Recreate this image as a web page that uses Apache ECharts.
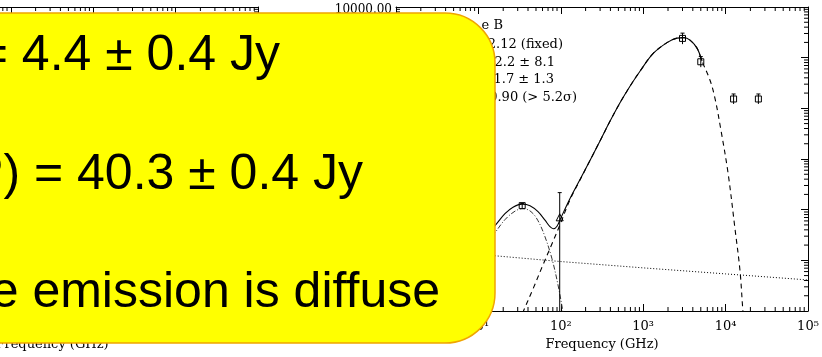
<!DOCTYPE html>
<html><head><meta charset="utf-8">
<script src="https://cdn.jsdelivr.net/npm/echarts@6/dist/echarts.min.js"></script>
<style>html,body{margin:0;padding:0;background:#fff}#c{width:822px;height:357px}</style>
</head><body><div id="c"></div>
<script>
// ---- data ----
const xTickLabels = ['10\u2070','10\u00b9','10\u00b2','10\u00b3','10\u2074','10\u2075'];
const yTickLabels = ['0.01','0.10','1.00','10.00','100.00','1000.00','10000.00'];

const totalFreq = [12.0,15.9,21.0,26.3,33.8,42.3,52.9,64.3,73.9,81.5,89.9,100.5,129,171,226,299,395,523,691,914,1315,1945,2570,3126,3698,4498,5176];
const totalFlux = [0.292,0.482,0.833,1.12,1.285,1.20,0.913,0.620,0.461,0.421,0.471,0.695,1.65,3.93,9.34,22.7,55.3,128.5,273,540,1200,1983,2432,2489,2222,1542,853];

const dustFreq = [25.6,34.8,46.0,60.8,78.2,97.8,129,171,226,299,395,523,691,914,1315,1945,2570,3126,3698,4498,5176,6470,7430,8790,10690,13000,14960,16260,18200];
const dustFlux = [0.00292,0.00955,0.0273,0.0815,0.212,0.505,1.56,3.85,9.34,22.7,55.3,128.5,273,540,1200,1983,2432,2489,2222,1542,853,358,158,36.7,5.40,0.421,0.0620,0.00955,0.00129];

const humpFreq = [10.5,15.9,21.0,27.8,34.8,43.5,52.9,64.3,78.2,92.5,106.3,118.9];
const humpFlux = [0.141,0.350,0.634,0.934,1.05,0.913,0.605,0.292,0.107,0.0327,0.00955,0.0032];

const plawFreq = [1,15.9,100,1000,10000,100000];
const plawFlux = [0.17,0.123,0.0946,0.071,0.054,0.041];

const ptFreq  = [34, 97, 3000, 5000, 12500, 25000];
const ptFlux  = [1.20, 0.69, 2400, 830, 153, 153];
const ptLow   = [1.08, 0.01, 1850, 650, 122, 122];
const ptHigh  = [1.33, 2.17, 3050, 1050, 192, 192];
const ptShape = ['square','triangle','square','square','square','square'];

const fitLines = ['e B', '2.12 (fixed)', '32.2 \u00b1 8.1', '1.7 \u00b1 1.3', '0.90 (> 5.2\u03c3)'];
const noteLines = ['= 4.4 \u00b1 0.4 Jy', 'P) = 40.3 \u00b1 0.4 Jy', 'e emission is diffuse'];
const axisTitle = 'Frequency (GHz)';

// ---- chart ----
const X_MIN = 1, X_MAX = 1e5, Y_MIN = 0.01, Y_MAX = 1e4;
const SERIF = '"DejaVu Serif", "Liberation Serif", serif';
const SANS = '"Liberation Sans", Arial, sans-serif';
const xMinor = [], yMinor = [];
for (let d = 1; d < X_MAX; d *= 10) for (let m = 2; m <= 9; m++) xMinor.push(d * m);
for (let d = Y_MIN; d < Y_MAX * 0.999; d *= 10) for (let m = 2; m <= 9; m++) yMinor.push(d * m);

const grids = [
  {left: -154, top: 7, width: 412, height: 304, outerBoundsMode: 'none', containLabel: false},
  {left: 396, top: 7, width: 412, height: 304, outerBoundsMode: 'none', containLabel: false}
];
const axLine = {show: true, onZero: false, lineStyle: {color: '#000', width: 1}};
const axTick = {show: true, inside: true, length: 7, lineStyle: {color: '#000', width: 1}};
function xLabel(v){ return xTickLabels[Math.round(Math.log10(v))] || ''; }
function yLabel(v){ return yTickLabels[Math.round(Math.log10(v)) + 2] || ''; }

const xAxes = [], yAxes = [];
[0, 1].forEach(g => {
  xAxes.push({type: 'log', logBase: 10, gridIndex: g, min: X_MIN, max: X_MAX, splitNumber: 5, position: 'bottom',
    axisLine: axLine, axisTick: axTick, splitLine: {show: false}, minorTick: {show: false},
    axisLabel: {show: true, formatter: xLabel, fontFamily: SERIF, fontSize: 13, color: '#000', margin: 9},
    name: axisTitle, nameLocation: 'middle', nameGap: 25,
    nameTextStyle: {fontFamily: SERIF, fontSize: 13, color: '#000'}});
  xAxes.push({type: 'log', logBase: 10, gridIndex: g, min: X_MIN, max: X_MAX, splitNumber: 5, position: 'top',
    axisLine: axLine, axisTick: axTick, splitLine: {show: false}, axisLabel: {show: false}});
  yAxes.push({type: 'log', logBase: 10, gridIndex: g, min: Y_MIN, max: Y_MAX, splitNumber: 6, position: 'left',
    axisLine: axLine, axisTick: axTick, splitLine: {show: false},
    axisLabel: {show: g === 1, formatter: yLabel, fontFamily: SERIF, fontSize: 12, color: '#000', margin: 4,
      verticalAlign: 'top', lineHeight: 6}});
  yAxes.push({type: 'log', logBase: 10, gridIndex: g, min: Y_MIN, max: Y_MAX, splitNumber: 6, position: 'right',
    axisLine: axLine, axisTick: axTick, splitLine: {show: false}, axisLabel: {show: false}});
});

function tickLine(x1, y1, x2, y2){ return {type: 'line', shape: {x1, y1, x2, y2}, style: {stroke: '#000', lineWidth: 1}}; }
function minorSeries(g){
  const xi = g * 2, yi = g * 2;
  return [
    {type: 'custom', xAxisIndex: xi, yAxisIndex: yi, silent: true, clip: false, z: 3,
      data: xMinor.map(v => [v, 1]), encode: {x: 0, y: 1},
      renderItem(p, api){ const v = api.value(0); const b = api.coord([v, Y_MIN]); const t = api.coord([v, Y_MAX]);
        return {type: 'group', children: [tickLine(b[0], b[1], b[0], b[1] - 4), tickLine(t[0], t[1], t[0], t[1] + 4)]}; }},
    {type: 'custom', xAxisIndex: xi, yAxisIndex: yi, silent: true, clip: false, z: 3,
      data: yMinor.map(v => [10, v]), encode: {x: 0, y: 1},
      renderItem(p, api){ const v = api.value(1); const l = api.coord([X_MIN, v]); const r = api.coord([X_MAX, v]);
        return {type: 'group', children: [tickLine(l[0], l[1], l[0] + 4, l[1]), tickLine(r[0], r[1], r[0] - 4, r[1])]}; }}
  ];
}
function zip(a, b){ return a.map((v, i) => [v, b[i]]); }
const lineBase = {type: 'line', xAxisIndex: 2, yAxisIndex: 2, showSymbol: false, symbol: 'none', smooth: 0.35, clip: true, silent: true, z: 4};

const series = [
  ...minorSeries(0), ...minorSeries(1),
  Object.assign({}, lineBase, {name: 'total', data: zip(totalFreq, totalFlux), lineStyle: {color: '#000', width: 1.1, type: 'solid'}}),
  Object.assign({}, lineBase, {name: 'dust', data: zip(dustFreq, dustFlux), lineStyle: {color: '#000', width: 1.1, type: [5, 4]}}),
  Object.assign({}, lineBase, {name: 'hump', data: zip(humpFreq, humpFlux), lineStyle: {color: '#333', width: 1, type: [5, 2, 1, 2]}}),
  Object.assign({}, lineBase, {name: 'plaw', data: zip(plawFreq, plawFlux), smooth: false, lineStyle: {color: '#000', width: 1, type: [1, 2]}}),
  {type: 'custom', xAxisIndex: 2, yAxisIndex: 2, silent: true, clip: true, z: 6,
    data: ptFreq.map((f, i) => [f, ptFlux[i], ptLow[i], ptHigh[i], i]), encode: {x: 0, y: 1},
    renderItem(p, api){
      const f = api.value(0), s = api.value(1), lo = api.value(2), hi = api.value(3), i = api.value(4);
      const c = api.coord([f, s]), a = api.coord([f, lo]), b = api.coord([f, hi]);
      const st = {stroke: '#000', lineWidth: 1, fill: 'none'};
      const kids = [tickLine(a[0], a[1], b[0], b[1]), tickLine(b[0] - 2, b[1], b[0] + 2, b[1])];
      if (ptShape[i] === 'triangle') {
        kids.push({type: 'polygon', shape: {points: [[c[0], c[1] - 4], [c[0] - 3.5, c[1] + 3], [c[0] + 3.5, c[1] + 3]]}, style: st});
      } else {
        kids.push({type: 'rect', shape: {x: c[0] - 3, y: c[1] - 3, width: 6, height: 6}, style: st});
      }
      return {type: 'group', children: kids};
    }}
];

const graphic = [];
const fitRight = [503, 563, 555, 554, 577];
const fitY = [26, 45, 63, 80, 98];
fitLines.forEach((t, i) => graphic.push({type: 'text', x: fitRight[i], y: fitY[i], z: 50,
  style: {text: t, fill: '#000', font: '13px ' + SERIF, align: 'right', verticalAlign: 'middle'}}));
graphic.push({type: 'rect', z: 100, shape: {x: -60, y: 13, width: 555, height: 330, r: 50},
  style: {fill: '#FFFF00', stroke: '#F0A500', lineWidth: 1.5}});
const noteRight = [280, 363, 440];
const noteY = [56, 175, 293];
noteLines.forEach((t, i) => graphic.push({type: 'text', x: noteRight[i], y: noteY[i], z: 101,
  style: {text: t, fill: '#000', font: '50px ' + SANS, align: 'right', verticalAlign: 'middle'}}));

const chart = echarts.init(document.getElementById('c'));
chart.setOption({
  animation: false, backgroundColor: '#fff',
  grid: grids, xAxis: xAxes, yAxis: yAxes, series, graphic
});
</script></body></html>
